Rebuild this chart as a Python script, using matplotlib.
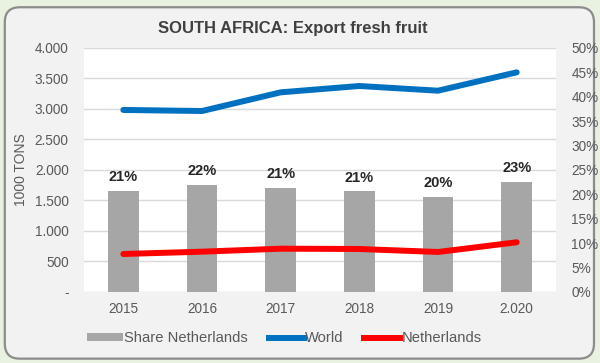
import matplotlib.pyplot as plt
import numpy as np
from matplotlib.patches import FancyBboxPatch, Patch
from matplotlib.lines import Line2D

plt.rcParams['font.family'] = ['Liberation Sans', 'DejaVu Sans']

years = ['2015', '2016', '2017', '2018', '2019', '2.020']
world = [2984, 2967, 3273, 3377, 3300, 3601]        # 1000 tons
netherlands = [623, 661, 710, 705, 656, 815]        # 1000 tons
share_nl = [0.207, 0.219, 0.214, 0.206, 0.195, 0.226]
share_labels = ['21%', '22%', '21%', '21%', '20%', '23%']

left_ticks = [0, 500, 1000, 1500, 2000, 2500, 3000, 3500, 4000]
right_ticks = [0, .05, .10, .15, .20, .25, .30, .35, .40, .45, .50]

txt = '#595959'

fig = plt.figure(figsize=(6, 3.63), dpi=100)
fig.patch.set_facecolor('#e9f1e0')

# rounded grey panel with a dark rim
panel = FancyBboxPatch((0.008, 0.012), 0.982, 0.968, boxstyle='round,pad=0,rounding_size=0.025',
                       transform=fig.transFigure, facecolor='#f2f2f2', edgecolor='#8c8c8c',
                       linewidth=1.6, zorder=-10, mutation_aspect=600 / 363)
fig.patches.append(panel)

ax2 = fig.add_axes([0.14, 0.1956, 0.7867, 0.6722])   # bars + grid (right axis)
ax = ax2.twinx()
ax.yaxis.tick_left()
ax.yaxis.set_label_position('left')
ax2.yaxis.tick_right()
ax.set_zorder(ax2.get_zorder() + 1)
ax.patch.set_visible(False)
ax2.set_facecolor('white')

x = np.arange(len(years))

# gridlines follow the left axis ticks, drawn under the bars
for v in left_ticks:
    ax2.axhline(v / 4000 * 0.5, color='#d9d9d9', lw=1.0, zorder=0)

ax2.bar(x, share_nl, width=0.39, color='#a6a6a6', zorder=2)
for xi, s, lab in zip(x, share_nl, share_labels):
    ax2.annotate(lab, (xi, s), xytext=(0, 5), textcoords='offset points',
                 ha='center', va='bottom', fontsize=10.5, fontweight='bold', color='#262626')

ax.plot(x, world, color='#0070c0', lw=4.3, solid_capstyle='round', zorder=3)
ax.plot(x, netherlands, color='#ff0000', lw=4.3, solid_capstyle='round', zorder=3)

ax.set_xlim(-0.5, len(years) - 0.5)
ax2.set_xlim(-0.5, len(years) - 0.5)
ax.set_ylim(0, 4000)
ax2.set_ylim(0, 0.5)

ax.set_yticks(left_ticks)
ax.set_yticklabels(['-' if v == 0 else f'{v:,}'.replace(',', '.') for v in left_ticks])
ax2.set_yticks(right_ticks)
ax2.set_yticklabels([f'{round(v * 100)}%' for v in right_ticks])
ax2.set_xticks(x)
ax2.set_xticklabels(years)

ax.tick_params(axis='y', length=0, pad=11, labelsize=9.8, labelcolor=txt)
ax2.tick_params(axis='y', length=0, pad=11, labelsize=9.8, labelcolor=txt)
ax2.tick_params(axis='x', length=0, pad=7, labelsize=9.8, labelcolor=txt)
ax.tick_params(axis='x', length=0, labelbottom=False)

for a in (ax, ax2):
    for sp in a.spines.values():
        sp.set_visible(False)

ax.set_ylabel('1000 TONS', fontsize=10, color=txt, labelpad=5)

fig.text(0.488, 0.922, 'SOUTH AFRICA: Export fresh fruit', ha='center', va='center',
         fontsize=12, fontweight='bold', color='#404040')

handles = [Patch(facecolor='#a6a6a6', label='Share Netherlands'),
           Line2D([], [], color='#0070c0', lw=4.3, label='World'),
           Line2D([], [], color='#ff0000', lw=4.3, label='Netherlands')]
fig.legend(handles=handles, loc='center', bbox_to_anchor=(0.474, 0.068), ncol=3, frameon=False,
           fontsize=10.6, handlelength=2.4, handletextpad=0.1, columnspacing=1.4,
           handleheight=0.5, labelcolor=txt)

fig.savefig('out.png', dpi=100, facecolor=fig.get_facecolor())
